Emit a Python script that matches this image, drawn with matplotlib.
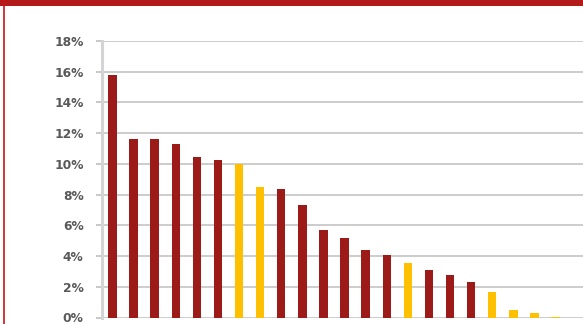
import matplotlib.pyplot as plt
import numpy as np
from matplotlib.lines import Line2D
from matplotlib.patches import Rectangle

# values (percent)
values = [15.8, 11.62, 11.6, 11.3, 10.45, 10.25, 10.0, 8.5, 8.38, 7.3, 5.67,
          5.17, 4.42, 4.04, 3.57, 3.07, 2.75, 2.31, 1.69, 0.49, 0.28, 0.06]
highlight = [0, 0, 0, 0, 0, 0, 1, 1, 0, 0, 0,
             0, 0, 0, 1, 0, 0, 0, 1, 1, 1, 1]
yticks = [0, 2, 4, 6, 8, 10, 12, 14, 16, 18]
ytick_labels = [f"{t}%" for t in yticks]

red = "#9c1a18"
yellow = "#ffc000"

fig = plt.figure(figsize=(5.83, 3.24), dpi=100)
ax = fig.add_axes([101.7 / 583, 6.5 / 324, 1 - 101.7 / 583, (317.5 - 41) / 324])

x = np.arange(len(values))
colors = [yellow if h else red for h in highlight]
ax.bar(x, values, width=0.4, color=colors, zorder=3)

ax.set_xlim(-0.51, 22.3)
ax.set_ylim(0, 18)
ax.set_yticks(yticks)
ax.set_yticklabels(ytick_labels, fontsize=8.8, fontweight="bold", color="#595959")
ax.tick_params(axis="y", length=4, width=1.2, color="#bfbfbf", pad=9)
ax.set_xticks([])

ax.grid(axis="y", color="#c4c4c4", linewidth=1.2, zorder=0)
for side in ["top", "right", "bottom"]:
    ax.spines[side].set_visible(False)
ax.spines["left"].set_color("#d4d4d4")
ax.spines["left"].set_linewidth(2.2)
ax.spines["left"].set_zorder(4)

# frame: red band on top, thin red line on the left
fig.patches.append(Rectangle((0, 1 - 6 / 324), 1, 6 / 324, transform=fig.transFigure,
                             facecolor="#b31a1a", edgecolor="none"))
fig.lines.append(Line2D([4 / 583, 4 / 583], [0, 1], transform=fig.transFigure,
                        color="#c8141a", linewidth=1.2))

fig.savefig("out.png", dpi=100)
